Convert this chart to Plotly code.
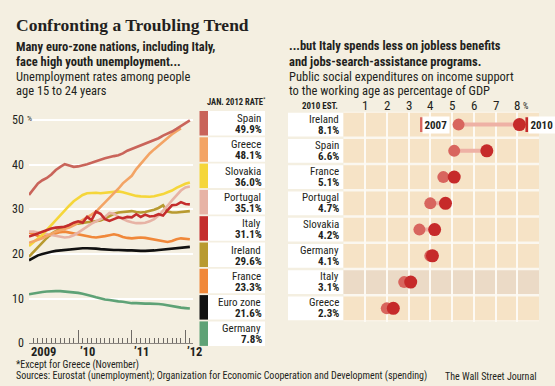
import plotly.graph_objects as go

W, H = 555, 386

# ---------------- data: youth unemployment (%) ----------------
months = list(range(37))
spain = [33.2,34.5,35.8,36.5,37.0,37.8,38.8,39.5,40.1,39.8,39.5,39.6,39.8,40.1,40.4,40.8,41.1,41.4,41.7,41.9,
         42.1,42.5,43.1,43.5,43.9,44.3,44.7,45.1,45.5,45.9,46.5,46.9,47.4,48.0,48.6,49.2,49.9]
greece = [22.5,22.8,23.2,23.5,24.0,24.5,25.0,25.3,25.6,25.9,26.4,27.0,27.5,28.1,28.8,29.5,30.5,31.5,32.5,33.5,
          34.6,35.8,36.7,37.5,39.0,40.2,41.5,42.5,43.4,44.3,45.2,46.0,46.8,47.5,48.1]
slovakia = [21.8,22.6,23.4,24.3,25.4,26.5,27.6,28.8,29.8,30.8,31.8,32.6,33.2,33.6,33.7,33.7,33.6,33.7,33.8,33.9,
            34.0,33.8,33.5,33.2,33.0,32.9,32.8,32.8,32.9,33.1,33.4,33.8,34.2,34.8,35.3,35.7,36.0]
portugal = [25.0,25.0,24.8,24.6,24.4,24.2,24.0,23.8,23.7,23.8,24.2,24.8,25.5,26.2,26.8,27.3,27.8,28.3,29.2,29.0,
            28.3,27.8,27.4,27.1,26.9,26.9,27.0,27.3,27.8,28.6,29.6,30.8,32.0,33.2,34.2,34.9,35.1]
italy = [23.9,24.2,24.6,25.0,25.4,25.7,25.9,26.0,26.1,26.5,27.0,27.3,27.0,28.3,27.6,29.5,29.0,27.8,27.4,27.8,
         28.2,28.0,28.3,28.2,28.9,28.3,28.8,28.4,28.5,28.9,28.6,29.8,30.9,31.0,31.6,31.2,31.1]
ireland = [19.4,20.5,21.6,22.6,23.6,24.5,25.2,25.7,26.1,26.4,26.6,26.8,27.0,27.1,27.2,27.3,27.5,27.9,28.4,29.0,
           29.3,29.4,29.5,29.6,29.4,29.3,29.4,29.6,29.9,30.3,30.9,29.5,29.3,29.3,29.4,29.5,29.6]
france = [24.8,24.5,24.0,23.8,24.0,24.3,24.7,24.9,25.0,24.8,24.5,24.3,24.1,23.9,23.8,23.7,23.8,24.0,24.2,24.4,
          24.2,23.8,23.6,23.5,23.6,23.7,23.6,23.4,23.2,23.0,22.8,22.7,22.9,23.3,23.5,23.4,23.3]
eurozone = [18.6,19.2,19.7,20.0,20.3,20.5,20.7,20.8,21.0,21.1,21.2,21.2,21.3,21.3,21.3,21.2,21.1,21.0,21.0,20.9,
            20.9,20.8,20.8,20.8,20.7,20.7,20.7,20.7,20.8,20.9,21.0,21.1,21.3,21.4,21.5,21.6,21.6]
germany = [11.0,11.2,11.4,11.5,11.6,11.7,11.7,11.7,11.6,11.6,11.5,11.3,11.1,10.9,10.6,10.3,10.0,9.8,9.7,9.5,
           9.4,9.3,9.1,9.0,9.0,8.9,8.9,8.9,8.9,8.8,8.7,8.5,8.3,8.1,8.0,7.9,7.8]

legend_names = ["Spain", "Greece", "Slovakia", "Portugal", "Italy", "Ireland", "France", "Euro zone", "Germany"]
jan2012_rate = ["49.9%", "48.1%", "36.0%", "35.1%", "31.1%", "29.6%", "23.3%", "21.6%", "7.8%"]
y_ticks = [0, 10, 20, 30, 40, 50]
year_tick_pos = [11, 23, 35]
year_labels = ["2009", "’10", "’11", "’12"]
year_label_pos = [0, 11, 23, 35]

# ---------------- data: spending (% of GDP) ----------------
countries = ["Ireland", "Spain", "France", "Portugal", "Slovakia", "Germany", "Italy", "Greece"]
spend_2007 = [5.3, 5.1, 4.6, 4.0, 3.5, 4.0, 2.8, 2.0]
spend_2010 = [8.1, 6.6, 5.1, 4.7, 4.2, 4.1, 3.1, 2.3]
spend_2010_label = ["8.1%", "6.6%", "5.1%", "4.7%", "4.2%", "4.1%", "3.1%", "2.3%"]
spend_ticks = [1, 2, 3, 4, 5, 6, 7, 8]

# ---------------- styling ----------------
BG = "#f4efe1"
SANS = "Liberation Sans Narrow, Roboto Condensed, Arial Narrow, Roboto, sans-serif"
SERIF = "Liberation Serif, DejaVu Serif, serif"
TXT = "#231f20"
series_colors = {
    "Spain": "#c9645a", "Greece": "#f3a465", "Slovakia": "#f5d63a", "Portugal": "#e7b3a5",
    "Italy": "#c42d2c", "Ireland": "#b89a30", "France": "#f0883a", "Euro zone": "#111111",
    "Germany": "#5ea276",
}
series_data = {
    "Spain": spain, "Greece": greece, "Slovakia": slovakia, "Portugal": portugal, "Italy": italy,
    "Ireland": ireland, "France": france, "Euro zone": eurozone, "Germany": germany,
}
draw_order = ["Germany", "France", "Ireland", "Portugal", "Slovakia", "Greece", "Spain", "Italy", "Euro zone"]
C2007 = "#d8655e"
C2010 = "#c62a2a"
CLINK = "#eeb1a5"
BAND = "#f6e3c6"
BAND_IT = "#ebdac6"


def px(x):
    return x / W


def py(y):
    return 1 - y / H


fig = go.Figure()

# ---- left: line chart ----
for name in draw_order:
    vals = series_data[name]
    fig.add_trace(go.Scatter(
        x=months[:len(vals)], y=vals, mode="lines", name=name,
        line=dict(color=series_colors[name], width=2.6),
        xaxis="x", yaxis="y", showlegend=False, hoverinfo="skip"))

# ---- right: dumbbell chart ----
link_x, link_y = [], []
for i, c in enumerate(countries):
    link_x += [spend_2007[i], spend_2010[i], None]
    link_y += [i, i, None]
fig.add_trace(go.Scatter(x=link_x, y=link_y, mode="lines", line=dict(color=CLINK, width=4),
                         xaxis="x2", yaxis="y2", showlegend=False, hoverinfo="skip"))
fig.add_trace(go.Scatter(x=spend_2007, y=list(range(len(countries))), mode="markers",
                         marker=dict(size=12, color=C2007), xaxis="x2", yaxis="y2",
                         showlegend=False, hoverinfo="skip"))
fig.add_trace(go.Scatter(x=spend_2010, y=list(range(len(countries))), mode="markers",
                         marker=dict(size=13, color=C2010), xaxis="x2", yaxis="y2",
                         showlegend=False, hoverinfo="skip"))

shapes = []
ann = []

# left legend boxes
top0, pitch, rh = 111, 26.3, 24.5
for i, name in enumerate(legend_names):
    t = top0 + i * pitch
    shapes.append(dict(type="rect", xref="paper", yref="paper", x0=px(199.5), x1=px(208),
                       y0=py(t + rh), y1=py(t), fillcolor=series_colors[name], line_width=0, layer="below"))
    shapes.append(dict(type="rect", xref="paper", yref="paper", x0=px(208), x1=px(265),
                       y0=py(t + rh), y1=py(t), fillcolor="white", line_width=0, layer="below"))
    ann.append(dict(text=name, x=px(263), y=py(t + 7.5), xref="paper", yref="paper",
                    xanchor="right", yanchor="middle", showarrow=False,
                    font=dict(family=SANS, size=11, color=TXT)))
    ann.append(dict(text="<b>" + jan2012_rate[i] + "</b>", x=px(263.5), y=py(t + 18.5), xref="paper", yref="paper",
                    xanchor="right", yanchor="middle", showarrow=False,
                    font=dict(family=SANS, size=11, color=TXT)))

ann.append(dict(text="<b>JAN. 2012 RATE</b><sup>*</sup>", x=px(268), y=py(101), xref="paper", yref="paper",
                xanchor="right", yanchor="middle", showarrow=False,
                font=dict(family=SANS, size=8.5, color=TXT)))

# left axis labels
for v in y_ticks:
    ann.append(dict(text=str(v), x=px(26), y=v, xref="paper", yref="y", xanchor="right", yanchor="middle",
                    showarrow=False, font=dict(family=SANS, size=12, color=TXT)))
ann.append(dict(text="%", x=px(25), y=50, yshift=1, xref="paper", yref="y", xanchor="left", yanchor="middle",
                showarrow=False, font=dict(family=SANS, size=8, color=TXT)))
for pos, lab in zip(year_label_pos, year_labels):
    ann.append(dict(text="<b>" + lab + "</b>", x=pos, y=py(351), xref="x", yref="paper", xanchor="left",
                    yanchor="middle", showarrow=False, font=dict(family=SANS, size=12.5, color=TXT)))

# right panel: white underlay, bands, label boxes
shapes.append(dict(type="rect", xref="x2", yref="y2", x0=0, x1=9, y0=-0.5, y1=len(countries) - 0.5,
                   fillcolor="#fbf7ef", line_width=0, layer="below"))
for i, c in enumerate(countries):
    shapes.append(dict(type="rect", xref="x2", yref="y2", x0=0, x1=9, y0=i - 0.45, y1=i + 0.45,
                       fillcolor=BAND_IT if c == "Italy" else BAND, line_width=0, layer="below"))
    shapes.append(dict(type="rect", xref="paper", yref="y2", x0=px(288), x1=px(343.3), y0=i - 0.45, y1=i + 0.45,
                       fillcolor="white", line_width=0, layer="below"))
    ann.append(dict(text=c, x=px(340.5), y=i, xref="paper", yref="y2", xanchor="right", yanchor="middle",
                    yshift=5.5, showarrow=False, font=dict(family=SANS, size=11, color=TXT)))
    ann.append(dict(text="<b>" + spend_2010_label[i] + "</b>", x=px(341), y=i, xref="paper", yref="y2",
                    xanchor="right", yanchor="middle", yshift=-5.5, showarrow=False,
                    font=dict(family=SANS, size=11, color=TXT)))

for v in spend_ticks:
    ann.append(dict(text=str(v), x=v, y=py(106), xref="x2", yref="paper", xanchor="center", yanchor="middle",
                    showarrow=False, font=dict(family=SANS, size=13, color=TXT)))
ann.append(dict(text="%", x=spend_ticks[-1], xshift=4, y=py(106), xref="x2", yref="paper", xanchor="left",
                yanchor="middle", showarrow=False, font=dict(family=SANS, size=8.5, color=TXT)))
ann.append(dict(text="<b>2010 EST.</b>", x=px(340), y=py(106), xref="paper", yref="paper", xanchor="right",
                yanchor="middle", showarrow=False, font=dict(family=SANS, size=9, color=TXT)))

# year labels on Ireland row
ann.append(dict(text="<b>2007</b>", x=spend_2007[0], y=0, xref="x2", yref="y2", xanchor="right",
                yanchor="middle", xshift=-9, showarrow=False, bgcolor="white", borderpad=1.5,
                font=dict(family=SANS, size=11, color=TXT)))
ann.append(dict(text="<b>2010</b>", x=spend_2010[0], y=0, xref="x2", yref="y2", xanchor="left",
                yanchor="middle", xshift=9, showarrow=False, bgcolor="white", borderpad=1.5,
                font=dict(family=SANS, size=11, color=TXT)))
shapes.append(dict(type="rect", xref="x2", yref="y2", xsizemode="pixel", xanchor=spend_2007[0],
                   x0=-38.5, x1=-35.8, y0=-0.28, y1=0.28, fillcolor=C2007, line_width=0))
shapes.append(dict(type="rect", xref="x2", yref="y2", xsizemode="pixel", xanchor=spend_2010[0],
                   x0=6, x1=8.7, y0=-0.28, y1=0.28, fillcolor=C2010, line_width=0))

# titles and notes
ann.append(dict(text="<b>Confronting a Troubling Trend</b>", x=px(14), y=py(25), xref="paper", yref="paper",
                xanchor="left", yanchor="middle", showarrow=False, font=dict(family=SERIF, size=17.5, color=TXT)))
left_head = [("<b>Many euro-zone nations, including Italy,</b>", 46.5),
             ("<b>face high youth unemployment...</b>", 61.5),
             ("Unemployment rates among people", 76.5),
             ("age 15 to 24 years", 91)]
right_head = [("<b>...but Italy spends less on jobless benefits</b>", 46),
              ("<b>and jobs-search-assistance programs.</b>", 61),
              ("Public social expenditures on income support", 76),
              ("to the working age as percentage of GDP", 91)]
for txt, yy in left_head:
    ann.append(dict(text=txt, x=px(14), y=py(yy), xref="paper", yref="paper", xanchor="left", yanchor="middle",
                    showarrow=False, font=dict(family=SANS, size=12.5, color=TXT)))
for txt, yy in right_head:
    ann.append(dict(text=txt, x=px(287), y=py(yy), xref="paper", yref="paper", xanchor="left", yanchor="middle",
                    showarrow=False, font=dict(family=SANS, size=12.5, color=TXT)))

ann.append(dict(text="*Except for Greece (November)", x=px(14), y=py(365), xref="paper", yref="paper",
                xanchor="left", yanchor="middle", showarrow=False, font=dict(family=SANS, size=10, color=TXT)))
ann.append(dict(text="Sources: Eurostat (unemployment); Organization for Economic Cooperation and Development (spending)",
                x=px(14), y=py(376), xref="paper", yref="paper", xanchor="left", yanchor="middle",
                showarrow=False, font=dict(family=SANS, size=10, color=TXT)))
ann.append(dict(text="The Wall Street Journal", x=px(539), y=py(376), xref="paper", yref="paper",
                xanchor="right", yanchor="middle", showarrow=False, font=dict(family=SANS, size=10, color=TXT)))

fig.update_layout(
    width=W, height=H, margin=dict(l=0, r=0, t=0, b=0),
    paper_bgcolor=BG, plot_bgcolor="rgba(0,0,0,0)",
    shapes=shapes, annotations=ann,
    xaxis=dict(domain=[px(29), px(193)], range=[0, 36.7], anchor="y",
               showgrid=False, zeroline=False, showticklabels=False,
               showline=True, linecolor="#8a8580", linewidth=1,
               ticks="inside", tickmode="linear", tick0=year_tick_pos[0], dtick=12, ticklen=13,
               tickcolor="#6e6a66", tickwidth=1,
               minor=dict(ticks="inside", dtick=1, tick0=0, ticklen=5, tickcolor="#6e6a66", tickwidth=1)),
    yaxis=dict(domain=[py(343.4), py(110)], range=[0, (343.4 - 110) / 4.47], anchor="x",
               tickvals=y_ticks[1:], showticklabels=False, showgrid=True, gridcolor="white", gridwidth=2,
               zeroline=False, showline=False, ticks=""),
    xaxis2=dict(domain=[px(343.3), px(539)], range=[0, 9], anchor="y2",
                tickvals=spend_ticks, showticklabels=False, showgrid=True, gridcolor="#fdfaf4", gridwidth=2,
                zeroline=False, showline=False, ticks=""),
    yaxis2=dict(domain=[py(321.5), py(111.5)], range=[len(countries) - 0.5, -0.5], anchor="x2",
                showticklabels=False, showgrid=False, zeroline=False, showline=False, ticks=""),
)

fig.write_html("out.html", config={"displayModeBar": False},
               post_script="document.body.style.margin='0';")
